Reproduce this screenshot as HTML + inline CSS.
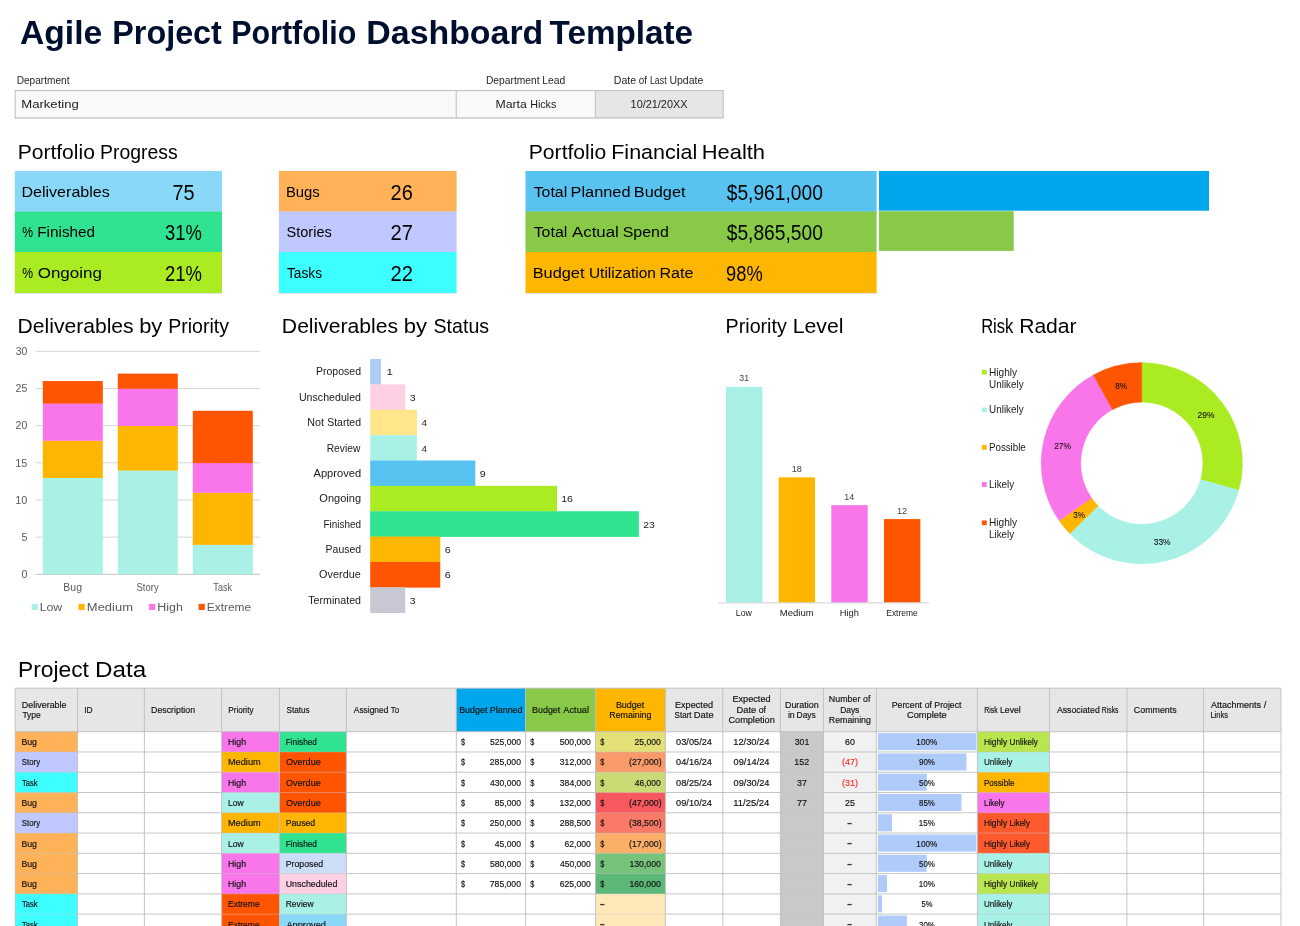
<!DOCTYPE html>
<html lang="en"><head><meta charset="utf-8"><title>Agile Project Portfolio Dashboard Template</title>
<style>
html,body{margin:0;padding:0;background:#fff;width:1300px;height:926px;overflow:hidden}
svg{display:block;font-family:"Liberation Sans",sans-serif}
text{white-space:pre}
</style></head><body>
<svg width="1300" height="926" viewBox="0 0 1300 926">
<g id="title">
<text transform="translate(19.99,43.80) scale(0.9923,1)" font-size="33.9" font-weight="700" fill="#000F2E">Agile </text>
<text transform="translate(112.27,43.80) scale(0.9539,1)" font-size="33.9" font-weight="700" fill="#000F2E">Project </text>
<text transform="translate(231.19,43.80) scale(0.8991,1)" font-size="33.9" font-weight="700" fill="#000F2E">Portfolio </text>
<text transform="translate(366.36,43.80) scale(0.9995,1)" font-size="33.9" font-weight="700" fill="#000F2E">Dashboard </text>
<text transform="translate(549.53,43.80) scale(0.9814,1)" font-size="33.9" font-weight="700" fill="#000F2E">Template</text>
</g>
<g id="info">
<text transform="translate(16.67,83.90) scale(1.0125,1)" font-size="10" fill="#262626">Department</text>
<text transform="translate(485.96,83.90) scale(1.0282,1)" font-size="10" fill="#262626">Department </text>
<text transform="translate(542.27,83.90) scale(1.0338,1)" font-size="10" fill="#262626">Lead</text>
<text transform="translate(613.83,83.90) scale(1.0588,1)" font-size="10" fill="#262626">Date </text>
<text transform="translate(638.84,83.90) scale(0.9866,1)" font-size="10" fill="#262626">of </text>
<text transform="translate(649.89,83.90) scale(0.8922,1)" font-size="10" fill="#262626">Last </text>
<text transform="translate(669.41,83.90) scale(1.0533,1)" font-size="10" fill="#262626">Update</text>
<rect x="15.20" y="90.60" width="708.00" height="27.40" fill="#F7F9FB"/>
<rect x="595.30" y="90.60" width="127.90" height="27.40" fill="#E6E6E6"/>
<line x1="14.70" y1="90.60" x2="723.70" y2="90.60" stroke="#BDBDBD" stroke-width="1"/>
<line x1="14.70" y1="118.00" x2="723.70" y2="118.00" stroke="#B5B5B5" stroke-width="1.1"/>
<line x1="15.20" y1="90.60" x2="15.20" y2="118.00" stroke="#BDBDBD" stroke-width="1"/>
<line x1="456.20" y1="90.60" x2="456.20" y2="118.00" stroke="#BDBDBD" stroke-width="1"/>
<line x1="595.30" y1="90.60" x2="595.30" y2="118.00" stroke="#BDBDBD" stroke-width="1"/>
<line x1="723.20" y1="90.60" x2="723.20" y2="118.00" stroke="#BDBDBD" stroke-width="1"/>
<text transform="translate(21.22,107.80) scale(1.2263,1)" font-size="10.7" fill="#1a1a1a">Marketing</text>
<text transform="translate(495.44,107.80) scale(1.1474,1)" font-size="10.7" fill="#1a1a1a">Marta </text>
<text transform="translate(530.14,107.80) scale(1.0019,1)" font-size="10.7" fill="#1a1a1a">Hicks</text>
<text transform="translate(630.62,107.80) scale(1.0184,1)" font-size="10.7" fill="#1a1a1a">10/21/20XX</text>
</g>
<g id="headings">
<text transform="translate(17.67,158.80) scale(1.0475,1)" font-size="20.1" fill="#000">Portfolio </text>
<text transform="translate(100.05,158.80) scale(0.9654,1)" font-size="20.1" fill="#000">Progress</text>
<text transform="translate(528.77,158.80) scale(1.0508,1)" font-size="20.1" fill="#000">Portfolio </text>
<text transform="translate(611.24,158.80) scale(1.0701,1)" font-size="20.1" fill="#000">Financial </text>
<text transform="translate(701.72,158.80) scale(1.0911,1)" font-size="20.1" fill="#000">Health</text>
<text transform="translate(17.57,332.80) scale(1.0501,1)" font-size="20.1" fill="#000">Deliverables </text>
<text transform="translate(139.13,332.80) scale(1.0925,1)" font-size="20.1" fill="#000">by </text>
<text transform="translate(168.26,332.80) scale(0.9719,1)" font-size="20.1" fill="#000">Priority</text>
<text transform="translate(281.87,332.80) scale(1.0520,1)" font-size="20.1" fill="#000">Deliverables </text>
<text transform="translate(403.65,332.80) scale(1.0945,1)" font-size="20.1" fill="#000">by </text>
<text transform="translate(433.56,332.80) scale(0.9747,1)" font-size="20.1" fill="#000">Status</text>
<text transform="translate(725.59,332.80) scale(0.9793,1)" font-size="20.1" fill="#000">Priority </text>
<text transform="translate(792.70,332.80) scale(1.0555,1)" font-size="20.1" fill="#000">Level</text>
<text transform="translate(981.14,332.80) scale(0.8238,1)" font-size="20.1" fill="#000">Risk </text>
<text transform="translate(1019.16,332.80) scale(1.0498,1)" font-size="20.1" fill="#000">Radar</text>
<text transform="translate(17.93,676.90) scale(1.0467,1)" font-size="21.8" fill="#000">Project </text>
<text transform="translate(94.96,676.90) scale(1.1124,1)" font-size="21.8" fill="#000">Data</text>
</g>
<g id="kpi">
<rect x="14.80" y="171.00" width="207.20" height="40.80" fill="#8AD8F8"/>
<rect x="14.80" y="211.50" width="207.20" height="40.80" fill="#30E391"/>
<rect x="14.80" y="252.00" width="207.20" height="41.00" fill="#AAEB22"/>
<line x1="14.80" y1="293.40" x2="222.00" y2="293.40" stroke="#C9C9C9" stroke-width="0.6"/>
<text transform="translate(21.38,196.80) scale(1.0723,1)" font-size="15.0" fill="#000">Deliverables</text>
<text transform="translate(172.49,199.90) scale(0.8925,1)" font-size="22.3" fill="#000">75</text>
<text transform="translate(22.27,237.30) scale(0.8114,1)" font-size="15.0" fill="#000">% </text>
<text transform="translate(37.21,237.30) scale(1.0224,1)" font-size="15.0" fill="#000">Finished</text>
<text transform="translate(165.10,240.40) scale(0.8234,1)" font-size="22.3" fill="#000">31%</text>
<text transform="translate(22.27,277.80) scale(0.8101,1)" font-size="15.0" fill="#000">% </text>
<text transform="translate(37.64,277.80) scale(1.1364,1)" font-size="15.0" fill="#000">Ongoing</text>
<text transform="translate(164.88,280.90) scale(0.8285,1)" font-size="22.3" fill="#000">21%</text>
<rect x="278.90" y="171.00" width="177.70" height="40.80" fill="#FFB257"/>
<rect x="278.90" y="211.50" width="177.70" height="40.80" fill="#BFC8FF"/>
<rect x="278.90" y="252.00" width="177.70" height="41.00" fill="#3DFFFF"/>
<line x1="278.90" y1="293.40" x2="456.60" y2="293.40" stroke="#C9C9C9" stroke-width="0.6"/>
<text transform="translate(285.98,196.80) scale(0.9903,1)" font-size="15.0" fill="#000">Bugs</text>
<text transform="translate(390.50,199.90) scale(0.8977,1)" font-size="22.3" fill="#000">26</text>
<text transform="translate(286.55,237.30) scale(0.9700,1)" font-size="15.0" fill="#000">Stories</text>
<text transform="translate(390.49,240.40) scale(0.9040,1)" font-size="22.3" fill="#000">27</text>
<text transform="translate(286.90,277.80) scale(0.9181,1)" font-size="15.0" fill="#000">Tasks</text>
<text transform="translate(390.49,280.90) scale(0.9040,1)" font-size="22.3" fill="#000">22</text>
<rect x="525.50" y="171.00" width="351.10" height="40.80" fill="#58C2F1"/>
<rect x="525.50" y="211.50" width="351.10" height="40.80" fill="#88CA47"/>
<rect x="525.50" y="252.00" width="351.10" height="41.00" fill="#FFB600"/>
<line x1="525.50" y1="293.40" x2="876.60" y2="293.40" stroke="#C9C9C9" stroke-width="0.6"/>
<text transform="translate(533.65,196.80) scale(1.0611,1)" font-size="15.0" fill="#000">Total </text>
<text transform="translate(570.56,196.80) scale(1.0894,1)" font-size="15.0" fill="#000">Planned </text>
<text transform="translate(633.84,196.80) scale(1.0868,1)" font-size="15.0" fill="#000">Budget</text>
<text transform="translate(726.71,199.90) scale(0.8621,1)" font-size="22.3" fill="#000">$5,961,000</text>
<text transform="translate(533.65,237.30) scale(1.0634,1)" font-size="15.0" fill="#000">Total </text>
<text transform="translate(571.95,237.30) scale(1.1248,1)" font-size="15.0" fill="#000">Actual </text>
<text transform="translate(622.70,237.30) scale(1.0636,1)" font-size="15.0" fill="#000">Spend</text>
<text transform="translate(726.71,240.40) scale(0.8621,1)" font-size="22.3" fill="#000">$5,865,500</text>
<text transform="translate(532.66,277.80) scale(1.0913,1)" font-size="15.0" fill="#000">Budget </text>
<text transform="translate(588.95,277.80) scale(1.0308,1)" font-size="15.0" fill="#000">Utilization </text>
<text transform="translate(659.38,277.80) scale(1.0741,1)" font-size="15.0" fill="#000">Rate</text>
<text transform="translate(726.06,280.90) scale(0.8198,1)" font-size="22.3" fill="#000">98%</text>
<rect x="879.00" y="171.00" width="330.00" height="39.70" fill="#00A7EC"/>
<rect x="879.00" y="211.20" width="134.70" height="39.70" fill="#88CA47"/>
</g>
<g id="chart-priority">
<line x1="35.30" y1="574.30" x2="260.20" y2="574.30" stroke="#C4C4C4" stroke-width="1"/>
<text transform="translate(21.40,578.00) scale(1.0313,1)" font-size="10.3" fill="#595959">0</text>
<line x1="35.30" y1="537.13" x2="260.20" y2="537.13" stroke="#D6D6D6" stroke-width="1"/>
<text transform="translate(21.38,540.83) scale(1.0400,1)" font-size="10.3" fill="#595959">5</text>
<line x1="35.30" y1="499.97" x2="260.20" y2="499.97" stroke="#D6D6D6" stroke-width="1"/>
<text transform="translate(15.23,503.67) scale(1.0553,1)" font-size="10.3" fill="#595959">10</text>
<line x1="35.30" y1="462.80" x2="260.20" y2="462.80" stroke="#D6D6D6" stroke-width="1"/>
<text transform="translate(15.22,466.50) scale(1.0585,1)" font-size="10.3" fill="#595959">15</text>
<line x1="35.30" y1="425.63" x2="260.20" y2="425.63" stroke="#D6D6D6" stroke-width="1"/>
<text transform="translate(15.52,429.33) scale(1.0285,1)" font-size="10.3" fill="#595959">20</text>
<line x1="35.30" y1="388.47" x2="260.20" y2="388.47" stroke="#D6D6D6" stroke-width="1"/>
<text transform="translate(15.52,392.17) scale(1.0315,1)" font-size="10.3" fill="#595959">25</text>
<line x1="35.30" y1="351.30" x2="260.20" y2="351.30" stroke="#D6D6D6" stroke-width="1"/>
<text transform="translate(15.65,355.00) scale(1.0166,1)" font-size="10.3" fill="#595959">30</text>
<rect x="42.80" y="477.67" width="60.00" height="96.63" fill="#A9F1E6"/>
<rect x="42.80" y="440.50" width="60.00" height="37.47" fill="#FFB600"/>
<rect x="42.80" y="403.33" width="60.00" height="37.47" fill="#F975EA"/>
<rect x="42.80" y="381.03" width="60.00" height="22.60" fill="#FF5500"/>
<text transform="translate(63.37,590.90) scale(1.0494,1)" font-size="10.0" fill="#595959">Bug</text>
<rect x="117.80" y="470.23" width="60.00" height="104.07" fill="#A9F1E6"/>
<rect x="117.80" y="425.63" width="60.00" height="44.90" fill="#FFB600"/>
<rect x="117.80" y="388.47" width="60.00" height="37.47" fill="#F975EA"/>
<rect x="117.80" y="373.60" width="60.00" height="15.17" fill="#FF5500"/>
<text transform="translate(136.53,590.90) scale(0.9482,1)" font-size="10.0" fill="#595959">Story</text>
<rect x="192.80" y="544.57" width="60.00" height="29.73" fill="#A9F1E6"/>
<rect x="192.80" y="492.53" width="60.00" height="52.33" fill="#FFB600"/>
<rect x="192.80" y="462.80" width="60.00" height="30.03" fill="#F975EA"/>
<rect x="192.80" y="410.77" width="60.00" height="52.33" fill="#FF5500"/>
<text transform="translate(213.34,590.90) scale(0.9095,1)" font-size="10.0" fill="#595959">Task</text>
<rect x="31.60" y="603.80" width="6.20" height="6.20" fill="#A9F1E6"/>
<text transform="translate(39.69,611.00) scale(1.0702,1)" font-size="11.5" fill="#595959">Low</text>
<rect x="78.50" y="603.80" width="6.20" height="6.20" fill="#FFB600"/>
<text transform="translate(86.84,611.00) scale(1.1271,1)" font-size="11.5" fill="#595959">Medium</text>
<rect x="149.10" y="603.80" width="6.20" height="6.20" fill="#F975EA"/>
<text transform="translate(157.28,611.00) scale(1.0830,1)" font-size="11.5" fill="#595959">High</text>
<rect x="198.60" y="603.80" width="6.20" height="6.20" fill="#FF5500"/>
<text transform="translate(206.72,611.00) scale(1.0395,1)" font-size="11.5" fill="#595959">Extreme</text>
</g>
<g id="chart-status">
<rect x="370.20" y="359.00" width="10.70" height="25.67" fill="#AECBFA"/>
<text transform="translate(315.97,375.49) scale(1.0034,1)" font-size="10.5" fill="#1a1a1a">Proposed</text>
<text transform="translate(386.62,375.49) scale(1.2139,1)" font-size="9.5" fill="#1a1a1a">1</text>
<rect x="370.20" y="384.37" width="35.04" height="25.67" fill="#FFD0E4"/>
<text transform="translate(298.93,400.86) scale(1.0141,1)" font-size="10.5" fill="#1a1a1a">Unscheduled</text>
<text transform="translate(409.74,400.86) scale(1.1040,1)" font-size="9.5" fill="#1a1a1a">3</text>
<rect x="370.20" y="409.74" width="46.72" height="25.67" fill="#FFE68A"/>
<text transform="translate(307.34,426.23) scale(1.0196,1)" font-size="10.5" fill="#1a1a1a">Not </text>
<text transform="translate(327.19,426.23) scale(1.0009,1)" font-size="10.5" fill="#1a1a1a">Started</text>
<text transform="translate(421.60,426.23) scale(1.0385,1)" font-size="9.5" fill="#1a1a1a">4</text>
<rect x="370.20" y="435.11" width="46.72" height="25.67" fill="#A9F1E6"/>
<text transform="translate(326.71,451.60) scale(0.9777,1)" font-size="10.5" fill="#1a1a1a">Review</text>
<text transform="translate(421.60,451.60) scale(1.0385,1)" font-size="9.5" fill="#1a1a1a">4</text>
<rect x="370.20" y="460.48" width="105.12" height="25.67" fill="#58C2F1"/>
<text transform="translate(313.54,476.97) scale(1.0583,1)" font-size="10.5" fill="#1a1a1a">Approved</text>
<text transform="translate(479.73,476.97) scale(1.1327,1)" font-size="9.5" fill="#1a1a1a">9</text>
<rect x="370.20" y="485.85" width="186.88" height="25.67" fill="#AAEB22"/>
<text transform="translate(319.37,502.34) scale(1.0513,1)" font-size="10.5" fill="#1a1a1a">Ongoing</text>
<text transform="translate(561.17,502.34) scale(1.1260,1)" font-size="9.5" fill="#1a1a1a">16</text>
<rect x="370.20" y="511.22" width="268.64" height="25.67" fill="#30E391"/>
<text transform="translate(323.51,527.70) scale(0.9455,1)" font-size="10.5" fill="#1a1a1a">Finished</text>
<text transform="translate(643.22,527.70) scale(1.0973,1)" font-size="9.5" fill="#1a1a1a">23</text>
<rect x="370.20" y="536.59" width="70.08" height="25.67" fill="#FFB600"/>
<text transform="translate(325.60,553.08) scale(0.9963,1)" font-size="10.5" fill="#1a1a1a">Paused</text>
<text transform="translate(444.64,553.08) scale(1.1327,1)" font-size="9.5" fill="#1a1a1a">6</text>
<rect x="370.20" y="561.96" width="70.08" height="25.67" fill="#FF5500"/>
<text transform="translate(319.12,578.44) scale(1.0371,1)" font-size="10.5" fill="#1a1a1a">Overdue</text>
<text transform="translate(444.64,578.44) scale(1.1327,1)" font-size="9.5" fill="#1a1a1a">6</text>
<rect x="370.20" y="587.33" width="35.04" height="25.67" fill="#C8C8D4"/>
<text transform="translate(308.21,603.82) scale(1.0179,1)" font-size="10.5" fill="#1a1a1a">Terminated</text>
<text transform="translate(409.74,603.82) scale(1.1040,1)" font-size="9.5" fill="#1a1a1a">3</text>
</g>
<g id="chart-level">
<rect x="726.00" y="386.84" width="36.40" height="215.76" fill="#A9F1E6"/>
<text transform="translate(739.35,381.34) scale(0.9577,1)" font-size="9.2" fill="#404040">31</text>
<text transform="translate(735.78,616.40) scale(0.9237,1)" font-size="9.5" fill="#1a1a1a">Low</text>
<rect x="778.65" y="477.32" width="36.40" height="125.28" fill="#FFB600"/>
<text transform="translate(791.64,471.82) scale(0.9895,1)" font-size="9.2" fill="#404040">18</text>
<text transform="translate(779.87,616.40) scale(1.0002,1)" font-size="9.5" fill="#1a1a1a">Medium</text>
<rect x="831.30" y="505.16" width="36.40" height="97.44" fill="#F975EA"/>
<text transform="translate(844.30,499.66) scale(0.9758,1)" font-size="9.2" fill="#404040">14</text>
<text transform="translate(839.84,616.40) scale(0.9805,1)" font-size="9.5" fill="#1a1a1a">High</text>
<rect x="883.95" y="519.08" width="36.40" height="83.52" fill="#FF5500"/>
<text transform="translate(896.93,513.58) scale(0.9966,1)" font-size="9.2" fill="#404040">12</text>
<text transform="translate(886.26,616.40) scale(0.8896,1)" font-size="9.5" fill="#1a1a1a">Extreme</text>
<line x1="718.40" y1="602.90" x2="929.00" y2="602.90" stroke="#D0D0D0" stroke-width="1"/>
</g>
<g id="chart-risk">
<path d="M1141.80,362.50 A100.7,100.7 0 0 1 1238.79,490.28 L1200.55,479.60 A61.0,61.0 0 0 0 1141.80,402.20 Z" fill="#AAEB22" stroke="#AAEB22" stroke-width="0.3"/>
<path d="M1238.79,490.28 A100.7,100.7 0 0 1 1069.85,533.66 L1098.22,505.88 A61.0,61.0 0 0 0 1200.55,479.60 Z" fill="#A9F1E6" stroke="#A9F1E6" stroke-width="0.3"/>
<path d="M1069.85,533.66 A100.7,100.7 0 0 1 1059.11,520.67 L1091.71,498.01 A61.0,61.0 0 0 0 1098.22,505.88 Z" fill="#FFB600" stroke="#FFB600" stroke-width="0.3"/>
<path d="M1059.11,520.67 A100.7,100.7 0 0 1 1093.29,374.96 L1112.41,409.75 A61.0,61.0 0 0 0 1091.71,498.01 Z" fill="#F975EA" stroke="#F975EA" stroke-width="0.3"/>
<path d="M1093.29,374.96 A100.7,100.7 0 0 1 1141.80,362.50 L1141.80,402.20 A61.0,61.0 0 0 0 1112.41,409.75 Z" fill="#FF5500" stroke="#FF5500" stroke-width="0.3"/>
<text transform="translate(1197.58,418.30) scale(0.8624,1)" font-size="9.8" stroke="#111" stroke-width="0.1" fill="#111">29%</text>
<text transform="translate(1153.78,545.10) scale(0.8570,1)" font-size="9.8" stroke="#111" stroke-width="0.1" fill="#111">33%</text>
<text transform="translate(1073.15,518.10) scale(0.8250,1)" font-size="9.8" stroke="#111" stroke-width="0.1" fill="#111">3%</text>
<text transform="translate(1054.18,448.60) scale(0.8624,1)" font-size="9.8" stroke="#111" stroke-width="0.1" fill="#111">27%</text>
<text transform="translate(1115.30,388.60) scale(0.8280,1)" font-size="9.8" stroke="#111" stroke-width="0.1" fill="#111">8%</text>
<rect x="981.90" y="369.80" width="4.80" height="4.80" fill="#AAEB22"/>
<text transform="translate(988.97,375.70) scale(0.9380,1)" font-size="10.8" fill="#1a1a1a">Highly</text>
<text transform="translate(989.04,387.60) scale(0.9173,1)" font-size="10.8" fill="#1a1a1a">Unlikely</text>
<rect x="981.90" y="407.50" width="4.80" height="4.80" fill="#A9F1E6"/>
<text transform="translate(989.04,413.40) scale(0.9173,1)" font-size="10.8" fill="#1a1a1a">Unlikely</text>
<rect x="981.90" y="444.90" width="4.80" height="4.80" fill="#FFB600"/>
<text transform="translate(989.00,450.80) scale(0.9021,1)" font-size="10.8" fill="#1a1a1a">Possible</text>
<rect x="981.90" y="482.10" width="4.80" height="4.80" fill="#F975EA"/>
<text transform="translate(988.99,488.00) scale(0.9136,1)" font-size="10.8" fill="#1a1a1a">Likely</text>
<rect x="981.90" y="520.40" width="4.80" height="4.80" fill="#FF5500"/>
<text transform="translate(988.97,526.30) scale(0.9380,1)" font-size="10.8" fill="#1a1a1a">Highly</text>
<text transform="translate(988.99,537.60) scale(0.9136,1)" font-size="10.8" fill="#1a1a1a">Likely</text>
</g>
<g id="table">
<rect x="15.20" y="688.20" width="1265.80" height="43.50" fill="#E6E6E6"/>
<rect x="456.30" y="688.20" width="69.30" height="43.50" fill="#00A7EC"/>
<rect x="525.60" y="688.20" width="69.90" height="43.50" fill="#88CA47"/>
<rect x="595.50" y="688.20" width="69.90" height="43.50" fill="#FFB600"/>
<text transform="translate(21.87,707.53) scale(1.0036,1)" font-size="8.9" stroke="#111" stroke-width="0.16" fill="#111">Deliverable</text>
<text transform="translate(22.41,717.88) scale(0.9510,1)" font-size="8.9" stroke="#111" stroke-width="0.16" fill="#111">Type</text>
<text transform="translate(84.23,712.70) scale(0.9396,1)" font-size="8.9" stroke="#111" stroke-width="0.16" fill="#111">ID</text>
<text transform="translate(151.08,712.70) scale(0.9896,1)" font-size="8.9" stroke="#111" stroke-width="0.16" fill="#111">Description</text>
<text transform="translate(228.34,712.70) scale(0.9069,1)" font-size="8.9" stroke="#111" stroke-width="0.16" fill="#111">Priority</text>
<text transform="translate(286.54,712.70) scale(0.9090,1)" font-size="8.9" stroke="#111" stroke-width="0.16" fill="#111">Status</text>
<text transform="translate(353.78,712.70) scale(0.9447,1)" font-size="8.9" stroke="#111" stroke-width="0.16" fill="#111">Assigned </text>
<text transform="translate(390.78,712.70) scale(0.8853,1)" font-size="8.9" stroke="#111" stroke-width="0.16" fill="#111">To</text>
<text transform="translate(459.15,712.70) scale(1.0027,1)" font-size="8.9" stroke="#111" stroke-width="0.16" fill="#111">Budget </text>
<text transform="translate(489.76,712.70) scale(1.0051,1)" font-size="8.9" stroke="#111" stroke-width="0.16" fill="#111">Planned</text>
<text transform="translate(532.01,712.70) scale(1.0033,1)" font-size="8.9" stroke="#111" stroke-width="0.16" fill="#111">Budget </text>
<text transform="translate(563.34,712.70) scale(1.0361,1)" font-size="8.9" stroke="#111" stroke-width="0.16" fill="#111">Actual</text>
<text transform="translate(615.88,707.53) scale(1.0092,1)" font-size="8.9" stroke="#111" stroke-width="0.16" fill="#111">Budget</text>
<text transform="translate(609.32,717.88) scale(0.9895,1)" font-size="8.9" stroke="#111" stroke-width="0.16" fill="#111">Remaining</text>
<text transform="translate(674.95,707.53) scale(1.0276,1)" font-size="8.9" stroke="#111" stroke-width="0.16" fill="#111">Expected</text>
<text transform="translate(674.61,717.88) scale(0.9021,1)" font-size="8.9" stroke="#111" stroke-width="0.16" fill="#111">Start </text>
<text transform="translate(693.86,717.88) scale(1.0525,1)" font-size="8.9" stroke="#111" stroke-width="0.16" fill="#111">Date</text>
<text transform="translate(732.45,702.35) scale(1.0276,1)" font-size="8.9" stroke="#111" stroke-width="0.16" fill="#111">Expected</text>
<text transform="translate(736.46,712.70) scale(1.0555,1)" font-size="8.9" stroke="#111" stroke-width="0.16" fill="#111">Date </text>
<text transform="translate(758.65,712.70) scale(0.9834,1)" font-size="8.9" stroke="#111" stroke-width="0.16" fill="#111">of</text>
<text transform="translate(728.45,723.05) scale(1.0312,1)" font-size="8.9" stroke="#111" stroke-width="0.16" fill="#111">Completion</text>
<text transform="translate(784.94,707.53) scale(1.0067,1)" font-size="8.9" stroke="#111" stroke-width="0.16" fill="#111">Duration</text>
<text transform="translate(787.90,717.88) scale(0.9827,1)" font-size="8.9" stroke="#111" stroke-width="0.16" fill="#111">in </text>
<text transform="translate(796.59,717.88) scale(0.9438,1)" font-size="8.9" stroke="#111" stroke-width="0.16" fill="#111">Days</text>
<text transform="translate(828.84,702.35) scale(0.9977,1)" font-size="8.9" stroke="#111" stroke-width="0.16" fill="#111">Number </text>
<text transform="translate(863.04,702.35) scale(0.9802,1)" font-size="8.9" stroke="#111" stroke-width="0.16" fill="#111">of</text>
<text transform="translate(840.13,712.70) scale(0.9492,1)" font-size="8.9" stroke="#111" stroke-width="0.16" fill="#111">Days</text>
<text transform="translate(828.82,723.05) scale(0.9895,1)" font-size="8.9" stroke="#111" stroke-width="0.16" fill="#111">Remaining</text>
<text transform="translate(891.66,707.53) scale(0.9897,1)" font-size="8.9" stroke="#111" stroke-width="0.16" fill="#111">Percent </text>
<text transform="translate(924.70,707.53) scale(0.9770,1)" font-size="8.9" stroke="#111" stroke-width="0.16" fill="#111">of </text>
<text transform="translate(934.36,707.53) scale(0.9786,1)" font-size="8.9" stroke="#111" stroke-width="0.16" fill="#111">Project</text>
<text transform="translate(907.01,717.88) scale(1.0430,1)" font-size="8.9" stroke="#111" stroke-width="0.16" fill="#111">Complete</text>
<text transform="translate(984.24,712.70) scale(0.7723,1)" font-size="8.9" stroke="#111" stroke-width="0.16" fill="#111">Risk </text>
<text transform="translate(1000.03,712.70) scale(0.9734,1)" font-size="8.9" stroke="#111" stroke-width="0.16" fill="#111">Level</text>
<text transform="translate(1056.88,712.70) scale(0.9860,1)" font-size="8.9" stroke="#111" stroke-width="0.16" fill="#111">Associated </text>
<text transform="translate(1101.79,712.70) scale(0.7672,1)" font-size="8.9" stroke="#111" stroke-width="0.16" fill="#111">Risks</text>
<text transform="translate(1133.86,712.70) scale(0.9958,1)" font-size="8.9" stroke="#111" stroke-width="0.16" fill="#111">Comments</text>
<text transform="translate(1210.98,707.53) scale(1.0110,1)" font-size="8.9" stroke="#111" stroke-width="0.16" fill="#111">Attachments </text>
<text transform="translate(1263.78,707.53) scale(1.0635,1)" font-size="8.9" stroke="#111" stroke-width="0.16" fill="#111">/</text>
<text transform="translate(1210.38,717.88) scale(0.8486,1)" font-size="8.9" stroke="#111" stroke-width="0.16" fill="#111">Links</text>
<rect x="780.40" y="731.70" width="43.10" height="202.70" fill="#C9C9C9"/>
<rect x="823.50" y="731.70" width="52.90" height="202.70" fill="#F1F1F1"/>
<rect x="15.20" y="731.70" width="62.40" height="20.57" fill="#FFB257"/>
<rect x="221.60" y="731.70" width="57.90" height="20.57" fill="#F975EA"/>
<rect x="279.50" y="731.70" width="66.90" height="20.57" fill="#30E391"/>
<rect x="595.50" y="731.70" width="69.90" height="20.57" fill="#E2E077"/>
<rect x="977.40" y="731.70" width="72.10" height="20.57" fill="#B9E64E"/>
<text transform="translate(21.38,745.15) scale(0.9825,1)" font-size="8.9" stroke="#111" stroke-width="0.16" fill="#111">Bug</text>
<text transform="translate(227.98,745.15) scale(0.9859,1)" font-size="8.9" stroke="#111" stroke-width="0.16" fill="#111">High</text>
<text transform="translate(285.72,745.15) scale(0.9295,1)" font-size="8.9" stroke="#111" stroke-width="0.16" fill="#111">Finished</text>
<text transform="translate(460.93,745.15) scale(0.8193,1)" font-size="8.9" stroke="#111" stroke-width="0.16" fill="#111">$</text>
<text transform="translate(489.90,745.15) scale(0.9675,1)" font-size="8.9" stroke="#111" stroke-width="0.16" fill="#111">525,000</text>
<text transform="translate(530.23,745.15) scale(0.8193,1)" font-size="8.9" stroke="#111" stroke-width="0.16" fill="#111">$</text>
<text transform="translate(559.80,745.15) scale(0.9675,1)" font-size="8.9" stroke="#111" stroke-width="0.16" fill="#111">500,000</text>
<text transform="translate(600.13,745.15) scale(0.8193,1)" font-size="8.9" stroke="#111" stroke-width="0.16" fill="#111">$</text>
<text transform="translate(634.41,745.15) scale(0.9706,1)" font-size="8.9" stroke="#111" stroke-width="0.16" fill="#111">25,000</text>
<text transform="translate(676.12,745.15) scale(1.0352,1)" font-size="8.9" stroke="#111" stroke-width="0.16" fill="#111">03/05/24</text>
<text transform="translate(733.28,745.15) scale(1.0453,1)" font-size="8.9" stroke="#111" stroke-width="0.16" fill="#111">12/30/24</text>
<text transform="translate(794.70,745.15) scale(0.9830,1)" font-size="8.9" stroke="#111" stroke-width="0.16" fill="#111">301</text>
<text transform="translate(844.99,745.15) scale(0.9919,1)" font-size="8.9" stroke="#111" stroke-width="0.16" fill="#111">60</text>
<rect x="878.00" y="733.15" width="98.40" height="17.07" fill="#AECBFA"/>
<text transform="translate(916.36,745.15) scale(0.9206,1)" font-size="8.9" stroke="#111" stroke-width="0.16" fill="#111">100%</text>
<text transform="translate(983.92,745.15) scale(0.9369,1)" font-size="8.9" stroke="#111" stroke-width="0.16" fill="#111">Highly </text>
<text transform="translate(1009.56,745.15) scale(0.9099,1)" font-size="8.9" stroke="#111" stroke-width="0.16" fill="#111">Unlikely</text>
<rect x="15.20" y="751.97" width="62.40" height="20.57" fill="#BFC8FF"/>
<rect x="221.60" y="751.97" width="57.90" height="20.57" fill="#FFB600"/>
<rect x="279.50" y="751.97" width="66.90" height="20.57" fill="#FF5500"/>
<rect x="595.50" y="751.97" width="69.90" height="20.57" fill="#F99A6A"/>
<rect x="977.40" y="751.97" width="72.10" height="20.57" fill="#A9F1E6"/>
<text transform="translate(21.74,765.42) scale(0.8879,1)" font-size="8.9" stroke="#111" stroke-width="0.16" fill="#111">Story</text>
<text transform="translate(227.94,765.42) scale(1.0359,1)" font-size="8.9" stroke="#111" stroke-width="0.16" fill="#111">Medium</text>
<text transform="translate(285.97,765.42) scale(1.0196,1)" font-size="8.9" stroke="#111" stroke-width="0.16" fill="#111">Overdue</text>
<text transform="translate(460.93,765.42) scale(0.8193,1)" font-size="8.9" stroke="#111" stroke-width="0.16" fill="#111">$</text>
<text transform="translate(489.81,765.42) scale(0.9702,1)" font-size="8.9" stroke="#111" stroke-width="0.16" fill="#111">285,000</text>
<text transform="translate(530.23,765.42) scale(0.8193,1)" font-size="8.9" stroke="#111" stroke-width="0.16" fill="#111">$</text>
<text transform="translate(559.82,765.42) scale(0.9669,1)" font-size="8.9" stroke="#111" stroke-width="0.16" fill="#111">312,000</text>
<text transform="translate(600.13,765.42) scale(0.8193,1)" font-size="8.9" stroke="#111" stroke-width="0.16" fill="#111">$</text>
<text transform="translate(629.00,765.42) scale(0.9847,1)" font-size="8.9" stroke="#111" stroke-width="0.16" fill="#111">(27,000)</text>
<text transform="translate(676.12,765.42) scale(1.0352,1)" font-size="8.9" stroke="#111" stroke-width="0.16" fill="#111">04/16/24</text>
<text transform="translate(733.62,765.42) scale(1.0352,1)" font-size="8.9" stroke="#111" stroke-width="0.16" fill="#111">09/14/24</text>
<text transform="translate(794.35,765.42) scale(1.0085,1)" font-size="8.9" stroke="#111" stroke-width="0.16" fill="#111">152</text>
<text transform="translate(841.92,765.42) scale(1.0152,1)" font-size="8.9" stroke="#FF2D2D" stroke-width="0.16" fill="#FF2D2D">(47)</text>
<rect x="878.00" y="753.42" width="88.47" height="17.07" fill="#AECBFA"/>
<text transform="translate(919.01,765.42) scale(0.8919,1)" font-size="8.9" stroke="#111" stroke-width="0.16" fill="#111">90%</text>
<text transform="translate(983.97,765.42) scale(0.9149,1)" font-size="8.9" stroke="#111" stroke-width="0.16" fill="#111">Unlikely</text>
<rect x="15.20" y="772.24" width="62.40" height="20.57" fill="#3DFFFF"/>
<rect x="221.60" y="772.24" width="57.90" height="20.57" fill="#F975EA"/>
<rect x="279.50" y="772.24" width="66.90" height="20.57" fill="#FF5500"/>
<rect x="595.50" y="772.24" width="69.90" height="20.57" fill="#C9DB74"/>
<rect x="977.40" y="772.24" width="72.10" height="20.57" fill="#FFB600"/>
<text transform="translate(21.93,785.69) scale(0.8516,1)" font-size="8.9" stroke="#111" stroke-width="0.16" fill="#111">Task</text>
<text transform="translate(227.98,785.69) scale(0.9859,1)" font-size="8.9" stroke="#111" stroke-width="0.16" fill="#111">High</text>
<text transform="translate(285.97,785.69) scale(1.0196,1)" font-size="8.9" stroke="#111" stroke-width="0.16" fill="#111">Overdue</text>
<text transform="translate(460.93,785.69) scale(0.8193,1)" font-size="8.9" stroke="#111" stroke-width="0.16" fill="#111">$</text>
<text transform="translate(490.06,785.69) scale(0.9626,1)" font-size="8.9" stroke="#111" stroke-width="0.16" fill="#111">430,000</text>
<text transform="translate(530.23,785.69) scale(0.8193,1)" font-size="8.9" stroke="#111" stroke-width="0.16" fill="#111">$</text>
<text transform="translate(559.82,785.69) scale(0.9669,1)" font-size="8.9" stroke="#111" stroke-width="0.16" fill="#111">384,000</text>
<text transform="translate(600.13,785.69) scale(0.8193,1)" font-size="8.9" stroke="#111" stroke-width="0.16" fill="#111">$</text>
<text transform="translate(634.66,785.69) scale(0.9615,1)" font-size="8.9" stroke="#111" stroke-width="0.16" fill="#111">46,000</text>
<text transform="translate(676.12,785.69) scale(1.0352,1)" font-size="8.9" stroke="#111" stroke-width="0.16" fill="#111">08/25/24</text>
<text transform="translate(733.62,785.69) scale(1.0352,1)" font-size="8.9" stroke="#111" stroke-width="0.16" fill="#111">09/30/24</text>
<text transform="translate(797.09,785.69) scale(0.9919,1)" font-size="8.9" stroke="#111" stroke-width="0.16" fill="#111">37</text>
<text transform="translate(841.92,785.69) scale(1.0152,1)" font-size="8.9" stroke="#FF2D2D" stroke-width="0.16" fill="#FF2D2D">(31)</text>
<rect x="878.00" y="773.69" width="48.75" height="17.07" fill="#AECBFA"/>
<text transform="translate(919.06,785.69) scale(0.8891,1)" font-size="8.9" stroke="#111" stroke-width="0.16" fill="#111">50%</text>
<text transform="translate(983.94,785.69) scale(0.9065,1)" font-size="8.9" stroke="#111" stroke-width="0.16" fill="#111">Possible</text>
<rect x="15.20" y="792.51" width="62.40" height="20.57" fill="#FFB257"/>
<rect x="221.60" y="792.51" width="57.90" height="20.57" fill="#A9F1E6"/>
<rect x="279.50" y="792.51" width="66.90" height="20.57" fill="#FF5500"/>
<rect x="595.50" y="792.51" width="69.90" height="20.57" fill="#F8595F"/>
<rect x="977.40" y="792.51" width="72.10" height="20.57" fill="#F975EA"/>
<text transform="translate(21.38,805.96) scale(0.9825,1)" font-size="8.9" stroke="#111" stroke-width="0.16" fill="#111">Bug</text>
<text transform="translate(228.00,805.96) scale(0.9619,1)" font-size="8.9" stroke="#111" stroke-width="0.16" fill="#111">Low</text>
<text transform="translate(285.97,805.96) scale(1.0196,1)" font-size="8.9" stroke="#111" stroke-width="0.16" fill="#111">Overdue</text>
<text transform="translate(460.93,805.96) scale(0.8193,1)" font-size="8.9" stroke="#111" stroke-width="0.16" fill="#111">$</text>
<text transform="translate(494.67,805.96) scale(0.9683,1)" font-size="8.9" stroke="#111" stroke-width="0.16" fill="#111">85,000</text>
<text transform="translate(530.23,805.96) scale(0.8193,1)" font-size="8.9" stroke="#111" stroke-width="0.16" fill="#111">$</text>
<text transform="translate(559.48,805.96) scale(0.9774,1)" font-size="8.9" stroke="#111" stroke-width="0.16" fill="#111">132,000</text>
<text transform="translate(600.13,805.96) scale(0.8193,1)" font-size="8.9" stroke="#111" stroke-width="0.16" fill="#111">$</text>
<text transform="translate(629.00,805.96) scale(0.9847,1)" font-size="8.9" stroke="#111" stroke-width="0.16" fill="#111">(47,000)</text>
<text transform="translate(676.12,805.96) scale(1.0352,1)" font-size="8.9" stroke="#111" stroke-width="0.16" fill="#111">09/10/24</text>
<text transform="translate(733.26,805.96) scale(1.0662,1)" font-size="8.9" stroke="#111" stroke-width="0.16" fill="#111">11/25/24</text>
<text transform="translate(796.97,805.96) scale(1.0047,1)" font-size="8.9" stroke="#111" stroke-width="0.16" fill="#111">77</text>
<text transform="translate(844.99,805.96) scale(0.9948,1)" font-size="8.9" stroke="#111" stroke-width="0.16" fill="#111">25</text>
<rect x="878.00" y="793.96" width="83.50" height="17.07" fill="#AECBFA"/>
<text transform="translate(919.04,805.96) scale(0.8905,1)" font-size="8.9" stroke="#111" stroke-width="0.16" fill="#111">85%</text>
<text transform="translate(983.94,805.96) scale(0.9014,1)" font-size="8.9" stroke="#111" stroke-width="0.16" fill="#111">Likely</text>
<rect x="15.20" y="812.78" width="62.40" height="20.57" fill="#BFC8FF"/>
<rect x="221.60" y="812.78" width="57.90" height="20.57" fill="#FFB600"/>
<rect x="279.50" y="812.78" width="66.90" height="20.57" fill="#FFB600"/>
<rect x="595.50" y="812.78" width="69.90" height="20.57" fill="#F97A68"/>
<rect x="977.40" y="812.78" width="72.10" height="20.57" fill="#FF5A2E"/>
<text transform="translate(21.74,826.23) scale(0.8879,1)" font-size="8.9" stroke="#111" stroke-width="0.16" fill="#111">Story</text>
<text transform="translate(227.94,826.23) scale(1.0359,1)" font-size="8.9" stroke="#111" stroke-width="0.16" fill="#111">Medium</text>
<text transform="translate(285.69,826.23) scale(0.9795,1)" font-size="8.9" stroke="#111" stroke-width="0.16" fill="#111">Paused</text>
<text transform="translate(460.93,826.23) scale(0.8193,1)" font-size="8.9" stroke="#111" stroke-width="0.16" fill="#111">$</text>
<text transform="translate(489.81,826.23) scale(0.9702,1)" font-size="8.9" stroke="#111" stroke-width="0.16" fill="#111">250,000</text>
<text transform="translate(530.23,826.23) scale(0.8193,1)" font-size="8.9" stroke="#111" stroke-width="0.16" fill="#111">$</text>
<text transform="translate(559.71,826.23) scale(0.9702,1)" font-size="8.9" stroke="#111" stroke-width="0.16" fill="#111">288,500</text>
<text transform="translate(600.13,826.23) scale(0.8193,1)" font-size="8.9" stroke="#111" stroke-width="0.16" fill="#111">$</text>
<text transform="translate(629.00,826.23) scale(0.9847,1)" font-size="8.9" stroke="#111" stroke-width="0.16" fill="#111">(38,500)</text>
<text transform="translate(846.74,826.13) scale(1.6278,1)" font-size="10.4" font-weight="700" fill="#3a3a3a">-</text>
<rect x="878.00" y="814.23" width="13.99" height="17.07" fill="#AECBFA"/>
<text transform="translate(918.77,826.23) scale(0.9060,1)" font-size="8.9" stroke="#111" stroke-width="0.16" fill="#111">15%</text>
<text transform="translate(983.92,826.23) scale(0.9379,1)" font-size="8.9" stroke="#111" stroke-width="0.16" fill="#111">Highly </text>
<text transform="translate(1009.56,826.23) scale(0.8932,1)" font-size="8.9" stroke="#111" stroke-width="0.16" fill="#111">Likely</text>
<rect x="15.20" y="833.05" width="62.40" height="20.57" fill="#FFB257"/>
<rect x="221.60" y="833.05" width="57.90" height="20.57" fill="#A9F1E6"/>
<rect x="279.50" y="833.05" width="66.90" height="20.57" fill="#30E391"/>
<rect x="595.50" y="833.05" width="69.90" height="20.57" fill="#FBB06A"/>
<rect x="977.40" y="833.05" width="72.10" height="20.57" fill="#FF5A2E"/>
<text transform="translate(21.38,846.50) scale(0.9825,1)" font-size="8.9" stroke="#111" stroke-width="0.16" fill="#111">Bug</text>
<text transform="translate(228.00,846.50) scale(0.9619,1)" font-size="8.9" stroke="#111" stroke-width="0.16" fill="#111">Low</text>
<text transform="translate(285.72,846.50) scale(0.9295,1)" font-size="8.9" stroke="#111" stroke-width="0.16" fill="#111">Finished</text>
<text transform="translate(460.93,846.50) scale(0.8193,1)" font-size="8.9" stroke="#111" stroke-width="0.16" fill="#111">$</text>
<text transform="translate(494.86,846.50) scale(0.9615,1)" font-size="8.9" stroke="#111" stroke-width="0.16" fill="#111">45,000</text>
<text transform="translate(530.23,846.50) scale(0.8193,1)" font-size="8.9" stroke="#111" stroke-width="0.16" fill="#111">$</text>
<text transform="translate(564.51,846.50) scale(0.9706,1)" font-size="8.9" stroke="#111" stroke-width="0.16" fill="#111">62,000</text>
<text transform="translate(600.13,846.50) scale(0.8193,1)" font-size="8.9" stroke="#111" stroke-width="0.16" fill="#111">$</text>
<text transform="translate(629.00,846.50) scale(0.9847,1)" font-size="8.9" stroke="#111" stroke-width="0.16" fill="#111">(17,000)</text>
<text transform="translate(846.74,846.40) scale(1.6278,1)" font-size="10.4" font-weight="700" fill="#3a3a3a">-</text>
<rect x="878.00" y="834.50" width="98.40" height="17.07" fill="#AECBFA"/>
<text transform="translate(916.36,846.50) scale(0.9206,1)" font-size="8.9" stroke="#111" stroke-width="0.16" fill="#111">100%</text>
<text transform="translate(983.92,846.50) scale(0.9379,1)" font-size="8.9" stroke="#111" stroke-width="0.16" fill="#111">Highly </text>
<text transform="translate(1009.56,846.50) scale(0.8932,1)" font-size="8.9" stroke="#111" stroke-width="0.16" fill="#111">Likely</text>
<rect x="15.20" y="853.32" width="62.40" height="20.57" fill="#FFB257"/>
<rect x="221.60" y="853.32" width="57.90" height="20.57" fill="#F975EA"/>
<rect x="279.50" y="853.32" width="66.90" height="20.57" fill="#CCDDF8"/>
<rect x="595.50" y="853.32" width="69.90" height="20.57" fill="#78C37B"/>
<rect x="977.40" y="853.32" width="72.10" height="20.57" fill="#A9F1E6"/>
<text transform="translate(21.38,866.77) scale(0.9825,1)" font-size="8.9" stroke="#111" stroke-width="0.16" fill="#111">Bug</text>
<text transform="translate(227.98,866.77) scale(0.9859,1)" font-size="8.9" stroke="#111" stroke-width="0.16" fill="#111">High</text>
<text transform="translate(285.68,866.77) scale(0.9865,1)" font-size="8.9" stroke="#111" stroke-width="0.16" fill="#111">Proposed</text>
<text transform="translate(460.93,866.77) scale(0.8193,1)" font-size="8.9" stroke="#111" stroke-width="0.16" fill="#111">$</text>
<text transform="translate(489.90,866.77) scale(0.9675,1)" font-size="8.9" stroke="#111" stroke-width="0.16" fill="#111">580,000</text>
<text transform="translate(530.23,866.77) scale(0.8193,1)" font-size="8.9" stroke="#111" stroke-width="0.16" fill="#111">$</text>
<text transform="translate(559.96,866.77) scale(0.9626,1)" font-size="8.9" stroke="#111" stroke-width="0.16" fill="#111">450,000</text>
<text transform="translate(600.13,866.77) scale(0.8193,1)" font-size="8.9" stroke="#111" stroke-width="0.16" fill="#111">$</text>
<text transform="translate(629.38,866.77) scale(0.9774,1)" font-size="8.9" stroke="#111" stroke-width="0.16" fill="#111">130,000</text>
<text transform="translate(846.74,866.67) scale(1.6278,1)" font-size="10.4" font-weight="700" fill="#3a3a3a">-</text>
<rect x="878.00" y="854.77" width="48.75" height="17.07" fill="#AECBFA"/>
<text transform="translate(919.06,866.77) scale(0.8891,1)" font-size="8.9" stroke="#111" stroke-width="0.16" fill="#111">50%</text>
<text transform="translate(983.97,866.77) scale(0.9149,1)" font-size="8.9" stroke="#111" stroke-width="0.16" fill="#111">Unlikely</text>
<rect x="15.20" y="873.59" width="62.40" height="20.57" fill="#FFB257"/>
<rect x="221.60" y="873.59" width="57.90" height="20.57" fill="#F975EA"/>
<rect x="279.50" y="873.59" width="66.90" height="20.57" fill="#FFD0E4"/>
<rect x="595.50" y="873.59" width="69.90" height="20.57" fill="#5BB878"/>
<rect x="977.40" y="873.59" width="72.10" height="20.57" fill="#B9E64E"/>
<text transform="translate(21.38,887.04) scale(0.9825,1)" font-size="8.9" stroke="#111" stroke-width="0.16" fill="#111">Bug</text>
<text transform="translate(227.98,887.04) scale(0.9859,1)" font-size="8.9" stroke="#111" stroke-width="0.16" fill="#111">High</text>
<text transform="translate(285.72,887.04) scale(0.9970,1)" font-size="8.9" stroke="#111" stroke-width="0.16" fill="#111">Unscheduled</text>
<text transform="translate(460.93,887.04) scale(0.8193,1)" font-size="8.9" stroke="#111" stroke-width="0.16" fill="#111">$</text>
<text transform="translate(489.80,887.04) scale(0.9705,1)" font-size="8.9" stroke="#111" stroke-width="0.16" fill="#111">785,000</text>
<text transform="translate(530.23,887.04) scale(0.8193,1)" font-size="8.9" stroke="#111" stroke-width="0.16" fill="#111">$</text>
<text transform="translate(559.71,887.04) scale(0.9702,1)" font-size="8.9" stroke="#111" stroke-width="0.16" fill="#111">625,000</text>
<text transform="translate(600.13,887.04) scale(0.8193,1)" font-size="8.9" stroke="#111" stroke-width="0.16" fill="#111">$</text>
<text transform="translate(629.38,887.04) scale(0.9774,1)" font-size="8.9" stroke="#111" stroke-width="0.16" fill="#111">160,000</text>
<text transform="translate(846.74,886.94) scale(1.6278,1)" font-size="10.4" font-weight="700" fill="#3a3a3a">-</text>
<rect x="878.00" y="875.04" width="9.03" height="17.07" fill="#AECBFA"/>
<text transform="translate(918.77,887.04) scale(0.9060,1)" font-size="8.9" stroke="#111" stroke-width="0.16" fill="#111">10%</text>
<text transform="translate(983.92,887.04) scale(0.9369,1)" font-size="8.9" stroke="#111" stroke-width="0.16" fill="#111">Highly </text>
<text transform="translate(1009.56,887.04) scale(0.9099,1)" font-size="8.9" stroke="#111" stroke-width="0.16" fill="#111">Unlikely</text>
<rect x="15.20" y="893.86" width="62.40" height="20.57" fill="#3DFFFF"/>
<rect x="221.60" y="893.86" width="57.90" height="20.57" fill="#FF5500"/>
<rect x="279.50" y="893.86" width="66.90" height="20.57" fill="#A9F1E6"/>
<rect x="595.50" y="893.86" width="69.90" height="20.57" fill="#FFE8B8"/>
<rect x="977.40" y="893.86" width="72.10" height="20.57" fill="#A9F1E6"/>
<text transform="translate(21.93,907.31) scale(0.8516,1)" font-size="8.9" stroke="#111" stroke-width="0.16" fill="#111">Task</text>
<text transform="translate(228.00,907.31) scale(0.9556,1)" font-size="8.9" stroke="#111" stroke-width="0.16" fill="#111">Extreme</text>
<text transform="translate(285.70,907.31) scale(0.9612,1)" font-size="8.9" stroke="#111" stroke-width="0.16" fill="#111">Review</text>
<text transform="translate(599.44,907.21) scale(1.6278,1)" font-size="10.4" font-weight="700" fill="#3a3a3a">-</text>
<text transform="translate(846.74,907.21) scale(1.6278,1)" font-size="10.4" font-weight="700" fill="#3a3a3a">-</text>
<rect x="878.00" y="895.31" width="4.07" height="17.07" fill="#AECBFA"/>
<text transform="translate(921.48,907.31) scale(0.8562,1)" font-size="8.9" stroke="#111" stroke-width="0.16" fill="#111">5%</text>
<text transform="translate(983.97,907.31) scale(0.9149,1)" font-size="8.9" stroke="#111" stroke-width="0.16" fill="#111">Unlikely</text>
<rect x="15.20" y="914.13" width="62.40" height="20.57" fill="#3DFFFF"/>
<rect x="221.60" y="914.13" width="57.90" height="20.57" fill="#FF5500"/>
<rect x="279.50" y="914.13" width="66.90" height="20.57" fill="#8AD8F8"/>
<rect x="595.50" y="914.13" width="69.90" height="20.57" fill="#FFE8B8"/>
<rect x="977.40" y="914.13" width="72.10" height="20.57" fill="#A9F1E6"/>
<text transform="translate(21.93,927.58) scale(0.8516,1)" font-size="8.9" stroke="#111" stroke-width="0.16" fill="#111">Task</text>
<text transform="translate(228.00,927.58) scale(0.9556,1)" font-size="8.9" stroke="#111" stroke-width="0.16" fill="#111">Extreme</text>
<text transform="translate(286.38,927.58) scale(1.0405,1)" font-size="8.9" stroke="#111" stroke-width="0.16" fill="#111">Approved</text>
<text transform="translate(599.44,927.48) scale(1.6278,1)" font-size="10.4" font-weight="700" fill="#3a3a3a">-</text>
<text transform="translate(846.74,927.48) scale(1.6278,1)" font-size="10.4" font-weight="700" fill="#3a3a3a">-</text>
<rect x="878.00" y="915.58" width="28.89" height="17.07" fill="#AECBFA"/>
<text transform="translate(919.08,927.58) scale(0.8882,1)" font-size="8.9" stroke="#111" stroke-width="0.16" fill="#111">30%</text>
<text transform="translate(983.97,927.58) scale(0.9149,1)" font-size="8.9" stroke="#111" stroke-width="0.16" fill="#111">Unlikely</text>
<line x1="77.60" y1="751.97" x2="221.60" y2="751.97" stroke="#BFBFBF" stroke-width="0.9" opacity="1"/>
<line x1="346.40" y1="751.97" x2="595.50" y2="751.97" stroke="#BFBFBF" stroke-width="0.9" opacity="1"/>
<line x1="665.40" y1="751.97" x2="780.40" y2="751.97" stroke="#BFBFBF" stroke-width="0.9" opacity="1"/>
<line x1="823.50" y1="751.97" x2="977.40" y2="751.97" stroke="#BFBFBF" stroke-width="0.9" opacity="1"/>
<line x1="1049.50" y1="751.97" x2="1281.00" y2="751.97" stroke="#BFBFBF" stroke-width="0.9" opacity="1"/>
<line x1="15.20" y1="751.97" x2="77.60" y2="751.97" stroke="#BFBFBF" stroke-width="0.9" opacity="0.45"/>
<line x1="221.60" y1="751.97" x2="346.40" y2="751.97" stroke="#BFBFBF" stroke-width="0.9" opacity="0.45"/>
<line x1="595.50" y1="751.97" x2="665.40" y2="751.97" stroke="#BFBFBF" stroke-width="0.9" opacity="0.45"/>
<line x1="977.40" y1="751.97" x2="1049.50" y2="751.97" stroke="#BFBFBF" stroke-width="0.9" opacity="0.45"/>
<line x1="780.40" y1="751.97" x2="823.50" y2="751.97" stroke="#BFBFBF" stroke-width="0.9" opacity="0.35"/>
<line x1="77.60" y1="772.24" x2="221.60" y2="772.24" stroke="#BFBFBF" stroke-width="0.9" opacity="1"/>
<line x1="346.40" y1="772.24" x2="595.50" y2="772.24" stroke="#BFBFBF" stroke-width="0.9" opacity="1"/>
<line x1="665.40" y1="772.24" x2="780.40" y2="772.24" stroke="#BFBFBF" stroke-width="0.9" opacity="1"/>
<line x1="823.50" y1="772.24" x2="977.40" y2="772.24" stroke="#BFBFBF" stroke-width="0.9" opacity="1"/>
<line x1="1049.50" y1="772.24" x2="1281.00" y2="772.24" stroke="#BFBFBF" stroke-width="0.9" opacity="1"/>
<line x1="15.20" y1="772.24" x2="77.60" y2="772.24" stroke="#BFBFBF" stroke-width="0.9" opacity="0.45"/>
<line x1="221.60" y1="772.24" x2="346.40" y2="772.24" stroke="#BFBFBF" stroke-width="0.9" opacity="0.45"/>
<line x1="595.50" y1="772.24" x2="665.40" y2="772.24" stroke="#BFBFBF" stroke-width="0.9" opacity="0.45"/>
<line x1="977.40" y1="772.24" x2="1049.50" y2="772.24" stroke="#BFBFBF" stroke-width="0.9" opacity="0.45"/>
<line x1="780.40" y1="772.24" x2="823.50" y2="772.24" stroke="#BFBFBF" stroke-width="0.9" opacity="0.35"/>
<line x1="77.60" y1="792.51" x2="221.60" y2="792.51" stroke="#BFBFBF" stroke-width="0.9" opacity="1"/>
<line x1="346.40" y1="792.51" x2="595.50" y2="792.51" stroke="#BFBFBF" stroke-width="0.9" opacity="1"/>
<line x1="665.40" y1="792.51" x2="780.40" y2="792.51" stroke="#BFBFBF" stroke-width="0.9" opacity="1"/>
<line x1="823.50" y1="792.51" x2="977.40" y2="792.51" stroke="#BFBFBF" stroke-width="0.9" opacity="1"/>
<line x1="1049.50" y1="792.51" x2="1281.00" y2="792.51" stroke="#BFBFBF" stroke-width="0.9" opacity="1"/>
<line x1="15.20" y1="792.51" x2="77.60" y2="792.51" stroke="#BFBFBF" stroke-width="0.9" opacity="0.45"/>
<line x1="221.60" y1="792.51" x2="346.40" y2="792.51" stroke="#BFBFBF" stroke-width="0.9" opacity="0.45"/>
<line x1="595.50" y1="792.51" x2="665.40" y2="792.51" stroke="#BFBFBF" stroke-width="0.9" opacity="0.45"/>
<line x1="977.40" y1="792.51" x2="1049.50" y2="792.51" stroke="#BFBFBF" stroke-width="0.9" opacity="0.45"/>
<line x1="780.40" y1="792.51" x2="823.50" y2="792.51" stroke="#BFBFBF" stroke-width="0.9" opacity="0.35"/>
<line x1="77.60" y1="812.78" x2="221.60" y2="812.78" stroke="#BFBFBF" stroke-width="0.9" opacity="1"/>
<line x1="346.40" y1="812.78" x2="595.50" y2="812.78" stroke="#BFBFBF" stroke-width="0.9" opacity="1"/>
<line x1="665.40" y1="812.78" x2="780.40" y2="812.78" stroke="#BFBFBF" stroke-width="0.9" opacity="1"/>
<line x1="823.50" y1="812.78" x2="977.40" y2="812.78" stroke="#BFBFBF" stroke-width="0.9" opacity="1"/>
<line x1="1049.50" y1="812.78" x2="1281.00" y2="812.78" stroke="#BFBFBF" stroke-width="0.9" opacity="1"/>
<line x1="15.20" y1="812.78" x2="77.60" y2="812.78" stroke="#BFBFBF" stroke-width="0.9" opacity="0.45"/>
<line x1="221.60" y1="812.78" x2="346.40" y2="812.78" stroke="#BFBFBF" stroke-width="0.9" opacity="0.45"/>
<line x1="595.50" y1="812.78" x2="665.40" y2="812.78" stroke="#BFBFBF" stroke-width="0.9" opacity="0.45"/>
<line x1="977.40" y1="812.78" x2="1049.50" y2="812.78" stroke="#BFBFBF" stroke-width="0.9" opacity="0.45"/>
<line x1="780.40" y1="812.78" x2="823.50" y2="812.78" stroke="#BFBFBF" stroke-width="0.9" opacity="0.35"/>
<line x1="77.60" y1="833.05" x2="221.60" y2="833.05" stroke="#BFBFBF" stroke-width="0.9" opacity="1"/>
<line x1="346.40" y1="833.05" x2="595.50" y2="833.05" stroke="#BFBFBF" stroke-width="0.9" opacity="1"/>
<line x1="665.40" y1="833.05" x2="780.40" y2="833.05" stroke="#BFBFBF" stroke-width="0.9" opacity="1"/>
<line x1="823.50" y1="833.05" x2="977.40" y2="833.05" stroke="#BFBFBF" stroke-width="0.9" opacity="1"/>
<line x1="1049.50" y1="833.05" x2="1281.00" y2="833.05" stroke="#BFBFBF" stroke-width="0.9" opacity="1"/>
<line x1="15.20" y1="833.05" x2="77.60" y2="833.05" stroke="#BFBFBF" stroke-width="0.9" opacity="0.45"/>
<line x1="221.60" y1="833.05" x2="346.40" y2="833.05" stroke="#BFBFBF" stroke-width="0.9" opacity="0.45"/>
<line x1="595.50" y1="833.05" x2="665.40" y2="833.05" stroke="#BFBFBF" stroke-width="0.9" opacity="0.45"/>
<line x1="977.40" y1="833.05" x2="1049.50" y2="833.05" stroke="#BFBFBF" stroke-width="0.9" opacity="0.45"/>
<line x1="780.40" y1="833.05" x2="823.50" y2="833.05" stroke="#BFBFBF" stroke-width="0.9" opacity="0.35"/>
<line x1="77.60" y1="853.32" x2="221.60" y2="853.32" stroke="#BFBFBF" stroke-width="0.9" opacity="1"/>
<line x1="346.40" y1="853.32" x2="595.50" y2="853.32" stroke="#BFBFBF" stroke-width="0.9" opacity="1"/>
<line x1="665.40" y1="853.32" x2="780.40" y2="853.32" stroke="#BFBFBF" stroke-width="0.9" opacity="1"/>
<line x1="823.50" y1="853.32" x2="977.40" y2="853.32" stroke="#BFBFBF" stroke-width="0.9" opacity="1"/>
<line x1="1049.50" y1="853.32" x2="1281.00" y2="853.32" stroke="#BFBFBF" stroke-width="0.9" opacity="1"/>
<line x1="15.20" y1="853.32" x2="77.60" y2="853.32" stroke="#BFBFBF" stroke-width="0.9" opacity="0.45"/>
<line x1="221.60" y1="853.32" x2="346.40" y2="853.32" stroke="#BFBFBF" stroke-width="0.9" opacity="0.45"/>
<line x1="595.50" y1="853.32" x2="665.40" y2="853.32" stroke="#BFBFBF" stroke-width="0.9" opacity="0.45"/>
<line x1="977.40" y1="853.32" x2="1049.50" y2="853.32" stroke="#BFBFBF" stroke-width="0.9" opacity="0.45"/>
<line x1="780.40" y1="853.32" x2="823.50" y2="853.32" stroke="#BFBFBF" stroke-width="0.9" opacity="0.35"/>
<line x1="77.60" y1="873.59" x2="221.60" y2="873.59" stroke="#BFBFBF" stroke-width="0.9" opacity="1"/>
<line x1="346.40" y1="873.59" x2="595.50" y2="873.59" stroke="#BFBFBF" stroke-width="0.9" opacity="1"/>
<line x1="665.40" y1="873.59" x2="780.40" y2="873.59" stroke="#BFBFBF" stroke-width="0.9" opacity="1"/>
<line x1="823.50" y1="873.59" x2="977.40" y2="873.59" stroke="#BFBFBF" stroke-width="0.9" opacity="1"/>
<line x1="1049.50" y1="873.59" x2="1281.00" y2="873.59" stroke="#BFBFBF" stroke-width="0.9" opacity="1"/>
<line x1="15.20" y1="873.59" x2="77.60" y2="873.59" stroke="#BFBFBF" stroke-width="0.9" opacity="0.45"/>
<line x1="221.60" y1="873.59" x2="346.40" y2="873.59" stroke="#BFBFBF" stroke-width="0.9" opacity="0.45"/>
<line x1="595.50" y1="873.59" x2="665.40" y2="873.59" stroke="#BFBFBF" stroke-width="0.9" opacity="0.45"/>
<line x1="977.40" y1="873.59" x2="1049.50" y2="873.59" stroke="#BFBFBF" stroke-width="0.9" opacity="0.45"/>
<line x1="780.40" y1="873.59" x2="823.50" y2="873.59" stroke="#BFBFBF" stroke-width="0.9" opacity="0.35"/>
<line x1="77.60" y1="893.86" x2="221.60" y2="893.86" stroke="#BFBFBF" stroke-width="0.9" opacity="1"/>
<line x1="346.40" y1="893.86" x2="595.50" y2="893.86" stroke="#BFBFBF" stroke-width="0.9" opacity="1"/>
<line x1="665.40" y1="893.86" x2="780.40" y2="893.86" stroke="#BFBFBF" stroke-width="0.9" opacity="1"/>
<line x1="823.50" y1="893.86" x2="977.40" y2="893.86" stroke="#BFBFBF" stroke-width="0.9" opacity="1"/>
<line x1="1049.50" y1="893.86" x2="1281.00" y2="893.86" stroke="#BFBFBF" stroke-width="0.9" opacity="1"/>
<line x1="15.20" y1="893.86" x2="77.60" y2="893.86" stroke="#BFBFBF" stroke-width="0.9" opacity="0.45"/>
<line x1="221.60" y1="893.86" x2="346.40" y2="893.86" stroke="#BFBFBF" stroke-width="0.9" opacity="0.45"/>
<line x1="595.50" y1="893.86" x2="665.40" y2="893.86" stroke="#BFBFBF" stroke-width="0.9" opacity="0.45"/>
<line x1="977.40" y1="893.86" x2="1049.50" y2="893.86" stroke="#BFBFBF" stroke-width="0.9" opacity="0.45"/>
<line x1="780.40" y1="893.86" x2="823.50" y2="893.86" stroke="#BFBFBF" stroke-width="0.9" opacity="0.35"/>
<line x1="77.60" y1="914.13" x2="221.60" y2="914.13" stroke="#BFBFBF" stroke-width="0.9" opacity="1"/>
<line x1="346.40" y1="914.13" x2="595.50" y2="914.13" stroke="#BFBFBF" stroke-width="0.9" opacity="1"/>
<line x1="665.40" y1="914.13" x2="780.40" y2="914.13" stroke="#BFBFBF" stroke-width="0.9" opacity="1"/>
<line x1="823.50" y1="914.13" x2="977.40" y2="914.13" stroke="#BFBFBF" stroke-width="0.9" opacity="1"/>
<line x1="1049.50" y1="914.13" x2="1281.00" y2="914.13" stroke="#BFBFBF" stroke-width="0.9" opacity="1"/>
<line x1="15.20" y1="914.13" x2="77.60" y2="914.13" stroke="#BFBFBF" stroke-width="0.9" opacity="0.45"/>
<line x1="221.60" y1="914.13" x2="346.40" y2="914.13" stroke="#BFBFBF" stroke-width="0.9" opacity="0.45"/>
<line x1="595.50" y1="914.13" x2="665.40" y2="914.13" stroke="#BFBFBF" stroke-width="0.9" opacity="0.45"/>
<line x1="977.40" y1="914.13" x2="1049.50" y2="914.13" stroke="#BFBFBF" stroke-width="0.9" opacity="0.45"/>
<line x1="780.40" y1="914.13" x2="823.50" y2="914.13" stroke="#BFBFBF" stroke-width="0.9" opacity="0.35"/>
<line x1="77.60" y1="934.40" x2="221.60" y2="934.40" stroke="#BFBFBF" stroke-width="0.9" opacity="1"/>
<line x1="346.40" y1="934.40" x2="595.50" y2="934.40" stroke="#BFBFBF" stroke-width="0.9" opacity="1"/>
<line x1="665.40" y1="934.40" x2="780.40" y2="934.40" stroke="#BFBFBF" stroke-width="0.9" opacity="1"/>
<line x1="823.50" y1="934.40" x2="977.40" y2="934.40" stroke="#BFBFBF" stroke-width="0.9" opacity="1"/>
<line x1="1049.50" y1="934.40" x2="1281.00" y2="934.40" stroke="#BFBFBF" stroke-width="0.9" opacity="1"/>
<line x1="15.20" y1="934.40" x2="77.60" y2="934.40" stroke="#BFBFBF" stroke-width="0.9" opacity="0.45"/>
<line x1="221.60" y1="934.40" x2="346.40" y2="934.40" stroke="#BFBFBF" stroke-width="0.9" opacity="0.45"/>
<line x1="595.50" y1="934.40" x2="665.40" y2="934.40" stroke="#BFBFBF" stroke-width="0.9" opacity="0.45"/>
<line x1="977.40" y1="934.40" x2="1049.50" y2="934.40" stroke="#BFBFBF" stroke-width="0.9" opacity="0.45"/>
<line x1="780.40" y1="934.40" x2="823.50" y2="934.40" stroke="#BFBFBF" stroke-width="0.9" opacity="0.35"/>
<line x1="15.20" y1="731.70" x2="1281.00" y2="731.70" stroke="#BFBFBF" stroke-width="0.9" opacity="1"/>
<line x1="15.20" y1="688.20" x2="1281.00" y2="688.20" stroke="#BFBFBF" stroke-width="0.9" opacity="1"/>
<line x1="15.20" y1="688.20" x2="15.20" y2="934.40" stroke="#BFBFBF" stroke-width="0.9"/>
<line x1="77.60" y1="688.20" x2="77.60" y2="934.40" stroke="#BFBFBF" stroke-width="0.9"/>
<line x1="144.40" y1="688.20" x2="144.40" y2="934.40" stroke="#BFBFBF" stroke-width="0.9"/>
<line x1="221.60" y1="688.20" x2="221.60" y2="934.40" stroke="#BFBFBF" stroke-width="0.9"/>
<line x1="279.50" y1="688.20" x2="279.50" y2="934.40" stroke="#BFBFBF" stroke-width="0.9"/>
<line x1="346.40" y1="688.20" x2="346.40" y2="934.40" stroke="#BFBFBF" stroke-width="0.9"/>
<line x1="456.30" y1="688.20" x2="456.30" y2="934.40" stroke="#BFBFBF" stroke-width="0.9"/>
<line x1="525.60" y1="688.20" x2="525.60" y2="934.40" stroke="#BFBFBF" stroke-width="0.9"/>
<line x1="595.50" y1="688.20" x2="595.50" y2="934.40" stroke="#BFBFBF" stroke-width="0.9"/>
<line x1="665.40" y1="688.20" x2="665.40" y2="934.40" stroke="#BFBFBF" stroke-width="0.9"/>
<line x1="722.80" y1="688.20" x2="722.80" y2="934.40" stroke="#BFBFBF" stroke-width="0.9"/>
<line x1="780.40" y1="688.20" x2="780.40" y2="934.40" stroke="#BFBFBF" stroke-width="0.9"/>
<line x1="823.50" y1="688.20" x2="823.50" y2="934.40" stroke="#BFBFBF" stroke-width="0.9"/>
<line x1="876.40" y1="688.20" x2="876.40" y2="934.40" stroke="#BFBFBF" stroke-width="0.9"/>
<line x1="977.40" y1="688.20" x2="977.40" y2="934.40" stroke="#BFBFBF" stroke-width="0.9"/>
<line x1="1049.50" y1="688.20" x2="1049.50" y2="934.40" stroke="#BFBFBF" stroke-width="0.9"/>
<line x1="1126.90" y1="688.20" x2="1126.90" y2="934.40" stroke="#BFBFBF" stroke-width="0.9"/>
<line x1="1203.60" y1="688.20" x2="1203.60" y2="934.40" stroke="#BFBFBF" stroke-width="0.9"/>
<line x1="1281.00" y1="688.20" x2="1281.00" y2="934.40" stroke="#BFBFBF" stroke-width="0.9"/>
</g>
</svg>
</body></html>
